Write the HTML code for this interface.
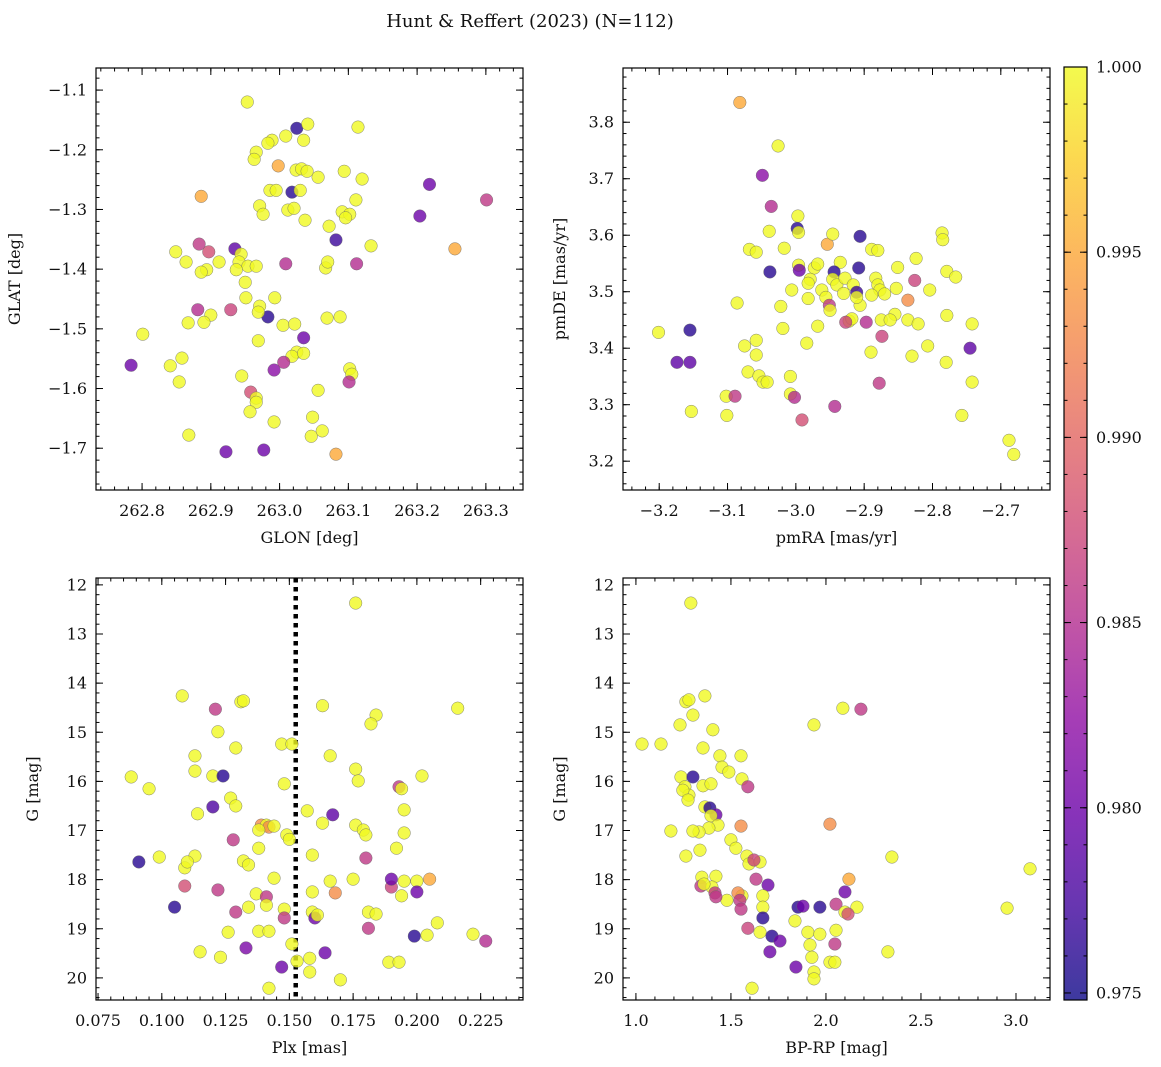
<!DOCTYPE html>
<html><head><meta charset="utf-8"><style>
html,body{margin:0;padding:0;background:#fff;}
svg{display:block;font-family:"DejaVu Serif","Liberation Serif",serif;}
</style></head><body>
<svg id="chart" width="1161" height="1067" viewBox="0 0 1161 1067" xmlns="http://www.w3.org/2000/svg">
<text x="530" y="27" text-anchor="middle" font-size="18" fill="#111">Hunt &amp; Reffert (2023) (N=112)</text>
</svg>
<script>
// Panel 1: GLON vs GLAT
const p1Glon=[262.953,263.025,263.041,263.114,262.989,263.009,263.035,262.983,262.966,262.963,262.998,263.024,263.032,263.040,263.056,263.094,263.120,263.018,262.986,262.995,263.030,262.886,263.218,263.204,263.301,262.971,262.976,263.012,263.021,263.091,263.102,263.111,263.096,263.037,263.072,263.082,262.849,262.883,262.897,262.864,262.912,262.894,262.935,262.944,262.941,262.954,262.966,262.937,262.950,263.009,263.133,263.112,263.255,263.067,263.070,262.886,262.951,262.929,262.881,262.983,262.971,262.969,262.993,263.005,263.022,262.900,262.890,262.867,263.088,263.069,263.035,262.969,262.801,263.025,263.018,263.006,262.841,262.858,263.035,262.992,263.102,263.105,263.101,262.784,262.854,262.945,262.958,262.966,262.966,263.056,262.957,262.992,263.048,262.868,263.046,263.062,262.922,262.977,263.082];
const p1Glat=[-1.120,-1.164,-1.157,-1.162,-1.184,-1.177,-1.184,-1.189,-1.204,-1.216,-1.227,-1.234,-1.232,-1.236,-1.246,-1.236,-1.249,-1.271,-1.268,-1.268,-1.268,-1.278,-1.258,-1.311,-1.284,-1.294,-1.308,-1.301,-1.298,-1.304,-1.308,-1.284,-1.314,-1.318,-1.328,-1.351,-1.371,-1.358,-1.371,-1.388,-1.388,-1.401,-1.366,-1.375,-1.388,-1.395,-1.395,-1.401,-1.422,-1.391,-1.361,-1.391,-1.366,-1.398,-1.388,-1.405,-1.448,-1.468,-1.468,-1.480,-1.462,-1.472,-1.448,-1.494,-1.492,-1.477,-1.489,-1.490,-1.480,-1.482,-1.515,-1.520,-1.509,-1.539,-1.546,-1.556,-1.562,-1.549,-1.541,-1.569,-1.567,-1.576,-1.589,-1.561,-1.589,-1.579,-1.606,-1.616,-1.623,-1.603,-1.639,-1.656,-1.648,-1.678,-1.680,-1.671,-1.706,-1.703,-1.710];
const p1Prob=[1,.976,1,1,1,1,1,1,1,1,.995,1,1,1,1,1,1,.976,1,1,1,.995,.980,.980,.986,1,1,1,1,1,1,1,1,1,1,.977,1,.986,.988,1,1,1,.979,1,1,1,1,1,1,.985,1,.985,.995,1,1,1,1,.987,.985,.976,1,1,1,1,1,1,1,1,1,1,.980,1,1,1,1,.985,1,1,1,.982,1,1,.985,.980,1,1,.988,1,1,1,1,1,1,1,1,1,.980,.980,.995];
// Panel 2: pmRA vs pmDE
const p2Pmra=[-3.082,-3.026,-3.049,-3.036,-2.997,-2.998,-2.996,-3.039,-3.068,-3.058,-3.017,-2.954,-2.946,-2.906,-2.889,-2.880,-2.786,-2.785,-3.038,-2.996,-2.995,-2.973,-2.968,-2.935,-2.908,-2.944,-2.979,-2.982,-2.946,-2.940,-2.928,-2.883,-2.880,-2.916,-2.962,-3.006,-2.956,-2.930,-2.911,-2.877,-2.870,-2.889,-2.853,-2.804,-2.826,-2.851,-2.824,-2.779,-2.766,-3.086,-3.022,-2.982,-2.951,-2.950,-2.906,-2.911,-2.836,-2.855,-2.779,-3.058,-3.019,-2.968,-2.984,-2.922,-2.918,-2.927,-2.897,-2.875,-2.862,-2.874,-2.836,-2.821,-2.807,-2.830,-2.890,-3.058,-3.075,-3.155,-3.201,-2.745,-2.742,-2.780,-3.070,-3.054,-3.048,-3.042,-3.008,-3.174,-3.155,-2.878,-2.742,-3.102,-3.089,-3.101,-3.153,-3.008,-3.002,-2.943,-2.991,-2.757,-2.688,-2.681];
const p2Pmde=[3.835,3.758,3.706,3.651,3.634,3.612,3.605,3.607,3.575,3.570,3.577,3.584,3.602,3.598,3.575,3.573,3.604,3.592,3.535,3.547,3.538,3.542,3.549,3.552,3.542,3.535,3.522,3.515,3.522,3.512,3.524,3.524,3.512,3.512,3.503,3.503,3.490,3.497,3.499,3.503,3.496,3.494,3.506,3.503,3.520,3.543,3.559,3.536,3.526,3.480,3.474,3.488,3.476,3.467,3.476,3.490,3.485,3.460,3.458,3.414,3.435,3.439,3.409,3.448,3.452,3.446,3.446,3.450,3.450,3.421,3.450,3.443,3.404,3.386,3.393,3.388,3.404,3.432,3.428,3.400,3.443,3.375,3.358,3.351,3.340,3.340,3.350,3.375,3.375,3.338,3.340,3.315,3.315,3.281,3.288,3.319,3.313,3.297,3.273,3.281,3.237,3.212];
const p2Prob=[.995,1,.982,.985,1,.976,1,1,1,1,1,.995,1,.976,1,1,1,1,.976,1,.980,1,1,1,.976,.976,1,1,1,1,1,1,1,1,1,1,1,1,.977,1,1,1,1,1,.987,1,1,1,1,1,1,1,.986,1,1,1,.993,1,1,1,1,1,1,1,1,.987,.985,1,1,.987,1,1,1,1,1,1,1,.976,1,.979,1,1,1,1,1,1,1,.979,.979,.986,1,1,.986,1,1,1,.985,.985,.988,1,1,1];
// Panel 3: Plx vs G
const p3Plx=[0.176,0.108,0.121,0.131,0.132,0.216,0.163,0.184,0.182,0.122,0.147,0.151,0.129,0.166,0.113,0.113,0.148,0.176,0.177,0.202,0.120,0.124,0.088,0.095,0.193,0.194,0.127,0.129,0.120,0.195,0.157,0.114,0.167,0.163,0.176,0.139,0.141,0.142,0.144,0.138,0.179,0.180,0.149,0.150,0.195,0.128,0.138,0.192,0.180,0.159,0.113,0.099,0.132,0.134,0.109,0.091,0.110,0.144,0.166,0.109,0.122,0.137,0.159,0.168,0.175,0.190,0.190,0.195,0.200,0.205,0.200,0.194,0.141,0.141,0.129,0.134,0.148,0.159,0.181,0.184,0.105,0.148,0.160,0.161,0.181,0.208,0.138,0.126,0.142,0.199,0.204,0.222,0.227,0.115,0.123,0.133,0.151,0.164,0.158,0.153,0.147,0.158,0.189,0.193,0.170,0.142];
const p3G=[12.37,14.26,14.53,14.38,14.36,14.51,14.46,14.65,14.83,14.99,15.24,15.24,15.32,15.48,15.48,15.79,16.05,15.75,15.99,15.89,15.89,15.89,15.91,16.15,16.11,16.15,16.34,16.50,16.52,16.58,16.60,16.66,16.68,16.85,16.89,16.89,16.89,16.93,16.91,16.99,16.99,17.09,17.09,17.18,17.05,17.19,17.36,17.36,17.56,17.50,17.52,17.54,17.62,17.70,17.76,17.64,17.64,17.97,18.03,18.13,18.21,18.29,18.25,18.27,17.99,18.15,17.99,18.03,18.03,17.99,18.25,18.33,18.35,18.52,18.66,18.56,18.60,18.66,18.66,18.70,18.56,18.78,18.78,18.72,18.99,18.88,19.05,19.07,19.05,19.15,19.13,19.11,19.25,19.47,19.58,19.39,19.31,19.49,19.60,19.66,19.78,19.88,19.68,19.68,20.04,20.21];
const p3Prob=[1,1,.986,1,1,1,1,1,1,1,1,1,1,1,1,1,1,1,1,1,1,.976,1,1,.986,1,1,1,.978,1,1,1,.979,1,1,.993,1,.993,1,1,1,1,1,1,1,.986,1,1,.986,1,1,1,1,1,1,.976,1,1,1,.988,.986,1,1,.993,1,.987,.980,1,1,.995,.980,1,.986,1,.986,1,1,1,1,1,.976,.986,.980,1,.986,1,1,1,1,.976,1,1,.985,1,1,.981,1,.980,1,1,.980,1,1,1,1,1];
// Panel 4: BP-RP vs G
const p4Bprp=[1.289,1.263,1.279,1.363,1.300,1.232,1.405,1.032,1.132,1.353,1.553,1.442,2.089,2.184,1.937,1.453,1.489,1.558,1.589,1.237,1.300,1.258,1.279,1.247,1.353,1.395,1.274,1.363,1.389,1.421,1.395,1.432,1.553,2.021,1.384,1.332,1.184,1.500,1.526,1.584,1.595,1.653,1.621,1.263,2.347,3.074,1.347,1.421,1.342,1.400,1.358,1.416,1.479,1.421,1.558,1.537,1.547,1.632,1.695,1.668,1.553,1.668,1.968,1.853,1.879,2.121,2.100,2.163,2.053,2.100,2.116,2.953,1.668,1.837,1.589,1.653,1.905,2.053,1.716,1.758,1.968,1.916,2.047,2.326,1.705,1.926,2.021,2.047,1.842,1.937,1.937,1.611,1.337,1.300];
const p4G=[12.37,14.38,14.34,14.26,14.65,14.85,14.95,15.24,15.24,15.32,15.48,15.48,14.51,14.53,14.85,15.71,15.81,15.95,16.11,15.91,15.91,16.11,16.28,16.18,16.09,16.05,16.38,16.52,16.54,16.68,16.70,16.89,16.91,16.87,16.95,17.03,17.01,17.19,17.36,17.52,17.68,17.64,17.60,17.52,17.54,17.78,17.95,17.93,18.13,18.15,18.09,18.27,18.42,18.35,18.33,18.27,18.42,17.99,18.11,18.33,18.60,18.56,18.56,18.56,18.54,17.99,18.25,18.56,18.50,18.66,18.70,18.58,18.78,18.84,18.99,19.07,19.07,19.03,19.15,19.25,19.11,19.33,19.31,19.47,19.47,19.58,19.68,19.68,19.78,19.88,20.02,20.21,17.40,17.01];
const p4Prob=[1,1,1,1,1,1,1,1,1,1,1,1,1,.986,1,1,1,1,.986,1,.976,1,1,1,1,1,1,1,.976,.980,1,1,.993,.993,1,1,1,1,1,1,1,1,.987,1,1,1,1,1,.986,1,1,.986,1,.986,1,.993,.986,.986,.980,1,.986,1,.976,.976,.980,.995,.980,1,.986,1,.988,1,.976,1,.987,1,1,1,.976,.980,1,1,.986,1,.980,1,1,1,.980,1,1,1,1,1];
const plxLine=[0.1525];
const cbTicks=[0.975,0.980,0.985,0.990,0.995,1.000];

const NS='http://www.w3.org/2000/svg';
const svg=document.getElementById('chart');
function mk(tag,attrs,parent){const e=document.createElementNS(NS,tag);for(const k in attrs)e.setAttribute(k,attrs[k]);(parent||svg).appendChild(e);return e;}
const stops=['#0d0887','#41049d','#6a00a8','#8f0da4','#b12a90','#cc4778','#e16462','#f2844b','#fca636','#fcce25','#f0f921'];
function hex(h){return [parseInt(h.substr(1,2),16),parseInt(h.substr(3,2),16),parseInt(h.substr(5,2),16)];}
function plasma(t){t=Math.max(0,Math.min(1,t));const f=t*10,i=Math.min(9,Math.floor(f)),r=f-i;const a=hex(stops[i]),b=hex(stops[i+1]);return 'rgb('+a.map((v,k)=>Math.round(v+(b[k]-v)*r)).join(',')+')';}
const vmin=0.97481,vmax=1.0;
function cmap(p){return plasma((p-vmin)/(vmax-vmin));}
function fmt(v,d){return v.toFixed(d).replace('-','\u2212');}

function panel(o){
  const g=mk('g',{});
  
  
  const sx=v=>o.x0+(v-o.xd[0])/(o.xd[1]-o.xd[0])*(o.x1-o.x0);
  const sy=v=>o.y1-(v-o.yd[0])/(o.yd[1]-o.yd[0])*(o.y1-o.y0);
  if(o.vline){o.vline.forEach(v=>{const l=mk('line',{x1:sx(v),x2:sx(v),y1:o.y0,y2:o.y1,stroke:'#000','stroke-width':4.5,'stroke-dasharray':'4.5,4.5'},g);});}
  for(let i=0;i<o.xs.length;i++){
    const c=mk('circle',{cx:sx(o.xs[i]),cy:sy(o.ys[i]),r:6.3,fill:cmap(o.ps[i]),'fill-opacity':0.8,stroke:'#666','stroke-width':0.5,'stroke-opacity':0.8},g);
    
    
  }
  const fr=mk('rect',{x:o.x0,y:o.y0,width:o.x1-o.x0,height:o.y1-o.y0,fill:'none',stroke:'#000','stroke-width':1.2},g);
  
  const xs0=Math.ceil(o.xd[0]/o.xm-1e-6);
  for(let k=xs0;k*o.xm<=o.xd[1]+1e-9;k++){const v=k*o.xm,x=sx(v);mk('line',{x1:x,x2:x,y1:o.y1,y2:o.y1-3.5,stroke:'#000'},g);mk('line',{x1:x,x2:x,y1:o.y0,y2:o.y0+3.5,stroke:'#000'},g);}
  o.xt.forEach(v=>{const x=sx(v);mk('line',{x1:x,x2:x,y1:o.y1,y2:o.y1-7,stroke:'#000'},g);mk('line',{x1:x,x2:x,y1:o.y0,y2:o.y0+7,stroke:'#000'},g);
    const t=mk('text',{x:x,y:o.y1+26,'text-anchor':'middle','font-size':16,fill:'#111'},g);t.textContent=fmt(v,o.xdp);});
  const ys0=Math.ceil(o.yd[0]/o.ym-1e-6);
  for(let k=ys0;k*o.ym<=o.yd[1]+1e-9;k++){const v=k*o.ym,y=sy(v);mk('line',{x1:o.x0,x2:o.x0+3.5,y1:y,y2:y,stroke:'#000'},g);mk('line',{x1:o.x1,x2:o.x1-3.5,y1:y,y2:y,stroke:'#000'},g);}
  o.yt.forEach(v=>{const y=sy(v);mk('line',{x1:o.x0,x2:o.x0+7,y1:y,y2:y,stroke:'#000'},g);mk('line',{x1:o.x1,x2:o.x1-7,y1:y,y2:y,stroke:'#000'},g);
    const t=mk('text',{x:o.x0-9,y:y+5.5,'text-anchor':'end','font-size':16,fill:'#111'},g);t.textContent=fmt(v,o.ydp);});
  const xl=mk('text',{x:(o.x0+o.x1)/2,y:o.y1+53,'text-anchor':'middle','font-size':16,fill:'#111'},g);xl.textContent=o.xl;
  const yx=o.x0-o.ylOff,yy=(o.y0+o.y1)/2;
  const yl=mk('text',{x:yx,y:yy,'text-anchor':'middle','font-size':16,fill:'#111',transform:'rotate(-90 '+yx+' '+yy+')'},g);yl.textContent=o.yl;
}
const rng=(a,b,s)=>{const r=[];for(let v=a;v<=b+s*1e-3;v+=s)r.push(+v.toFixed(6));return r;};
panel({name:'glon-glat-panel',x0:96,x1:523,y0:68,y1:490,xd:[262.733,263.354],yd:[-1.770,-1.063],xs:p1Glon,ys:p1Glat,ps:p1Prob,xt:rng(262.8,263.3,0.1),xm:0.02,xdp:1,yt:rng(-1.7,-1.1,0.1),ym:0.02,ydp:1,xl:'GLON [deg]',yl:'GLAT [deg]',ylOff:76});
panel({name:'proper-motion-panel',x0:623,x1:1050,y0:68,y1:490,xd:[-3.253,-2.628],yd:[3.149,3.896],xs:p2Pmra,ys:p2Pmde,ps:p2Prob,xt:rng(-3.2,-2.7,0.1),xm:0.02,xdp:1,yt:rng(3.2,3.8,0.1),ym:0.02,ydp:1,xl:'pmRA [mas/yr]',yl:'pmDE [mas/yr]',ylOff:58});
panel({name:'parallax-magnitude-panel',x0:96,x1:523,y0:578,y1:1000,xd:[0.0742,0.2416],yd:[-20.45,-11.86],xs:p3Plx,ys:p3G.map(v=>-v),ps:p3Prob,xt:rng(0.075,0.225,0.025),xm:0.005,xdp:3,yt:[],ym:0.2,ydp:0,xl:'Plx [mas]',yl:'G [mag]',ylOff:58,vline:plxLine});
panel({name:'color-magnitude-panel',x0:623,x1:1050,y0:578,y1:1000,xd:[0.932,3.179],yd:[-20.45,-11.86],xs:p4Bprp,ys:p4G.map(v=>-v),ps:p4Prob,xt:rng(1.0,3.0,0.5),xm:0.1,xdp:1,yt:[],ym:0.2,ydp:0,xl:'BP-RP [mag]',yl:'G [mag]',ylOff:58});
[[96,523],[623,1050]].forEach(([x0,x1])=>{for(let v=12;v<=20;v++){const y=578+(v-11.86)/(20.45-11.86)*422;mk('line',{x1:x0,x2:x0+7,y1:y,y2:y,stroke:'#000'});mk('line',{x1:x1,x2:x1-7,y1:y,y2:y,stroke:'#000'});const t=mk('text',{x:x0-9,y:y+5.5,'text-anchor':'end','font-size':16,fill:'#111'});t.textContent=v;}});
const defs=mk('defs',{});const lg=mk('linearGradient',{id:'cbg',x1:0,y1:1,x2:0,y2:0},defs);
for(let i=0;i<=20;i++){mk('stop',{offset:i/20,'stop-color':plasma(i/20),'stop-opacity':0.8},lg);}
const cb=mk('rect',{x:1064,y:67,width:23,height:933,fill:'url(#cbg)',stroke:'#000','stroke-width':1.2});

const cy=v=>1000-(v-vmin)/(vmax-vmin)*933;
for(let v=0.975;v<=1.0001;v+=0.001){const y=cy(v);mk('line',{x1:1087,x2:1083.5,y1:y,y2:y,stroke:'#000'});mk('line',{x1:1064,x2:1067.5,y1:y,y2:y,stroke:'#000'});}
cbTicks.forEach(v=>{const y=cy(v);mk('line',{x1:1087,x2:1080,y1:y,y2:y,stroke:'#000'});mk('line',{x1:1064,x2:1071,y1:y,y2:y,stroke:'#000'});const t=mk('text',{x:1096,y:y+5.5,'font-size':16,fill:'#111'});t.textContent=v.toFixed(3);});
</script>
</body></html>
